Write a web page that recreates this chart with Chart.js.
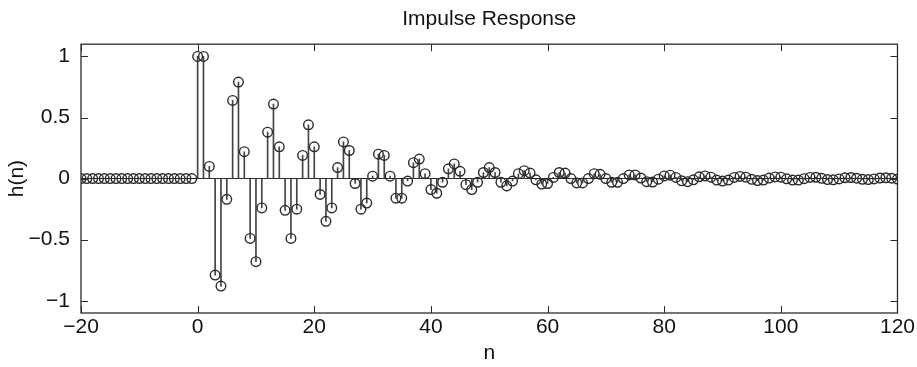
<!DOCTYPE html>
<html>
<head>
<meta charset="utf-8">
<title>Impulse Response</title>
<script src="https://cdn.jsdelivr.net/npm/chart.js@4.4.1/dist/chart.umd.min.js"></script>
<style>
  html, body { margin: 0; padding: 0; background: #fff; }
  #wrap { width: 917px; height: 367px; }
</style>
</head>
<body>
<div id="wrap"><canvas id="myChart" width="917" height="367"></canvas></div>
<script>
// n runs from -20 to 120
const nStart = -20;
const hValues = [
  // n = -20 .. -1
  0, 0, 0, 0, 0, 0, 0, 0, 0, 0,
  0, 0, 0, 0, 0, 0, 0, 0, 0, 0,
  // n = 0 .. 19
  1.0, 1.0, 0.1, -0.79, -0.88, -0.17, 0.64, 0.79, 0.22, -0.49,
  -0.68, -0.24, 0.38, 0.61, 0.26, -0.26, -0.49, -0.25, 0.19, 0.44,
  // n = 20 .. 39
  0.26, -0.13, -0.35, -0.24, 0.09, 0.30, 0.23, -0.04, -0.25, -0.20,
  0.02, 0.20, 0.19, 0.02, -0.16, -0.16, -0.02, 0.13, 0.16, 0.04,
  // n = 40 .. 59
  -0.09, -0.12, -0.03, 0.08, 0.12, 0.06, -0.05, -0.09, -0.03, 0.05,
  0.09, 0.05, -0.03, -0.06, -0.02, 0.04, 0.065, 0.045, -0.01, -0.045,
  // n = 60 .. 79
  -0.04, 0.01, 0.05, 0.045, 0.0, -0.035, -0.035, 0.0, 0.04, 0.035,
  0.0, -0.03, -0.03, 0.0, 0.03, 0.03, 0.005, -0.025, -0.028, -0.005,
  // n = 80 .. 99
  0.022, 0.028, 0.01, -0.018, -0.025, -0.01, 0.015, 0.022, 0.012, -0.012,
  -0.02, -0.012, 0.01, 0.018, 0.012, -0.006, -0.016, -0.012, 0.004, 0.014,
  // n = 100 .. 120
  0.012, -0.002, -0.012, -0.012, -0.001, 0.01, 0.011, 0.002, -0.008, -0.01,
  -0.003, 0.007, 0.009, 0.003, -0.006, -0.008, -0.003, 0.005, 0.007, 0.003,
  -0.004
];
const xTicks = [-20, 0, 20, 40, 60, 80, 100, 120];
const yTicks = [-1, -0.5, 0, 0.5, 1];
const yLabels = ["\u22121", "\u22120.5", "0", "0.5", "1"];

const points = hValues.map((h, i) => ({ x: nStart + i, y: h }));

const FONT = "'Liberation Sans', Arial, Helvetica, sans-serif";
const FS = 21;
const INK = "#2b2b2b";

// box round the plot with inward ticks, like matlab axes
const boxPlugin = {
  id: "box",
  afterDraw(chart) {
    const { ctx, chartArea: a, scales } = chart;
    const len = 7;
    ctx.save();
    ctx.strokeStyle = INK;
    ctx.lineWidth = 1.3;
    ctx.strokeRect(a.left, a.top, a.right - a.left, a.bottom - a.top);
    ctx.lineWidth = 1;
    ctx.beginPath();
    xTicks.forEach(v => {
      const px = Math.round(scales.x.getPixelForValue(v)) + 0.5;
      ctx.moveTo(px, a.bottom); ctx.lineTo(px, a.bottom - len);
      ctx.moveTo(px, a.top); ctx.lineTo(px, a.top + len);
    });
    yTicks.forEach(v => {
      const py = Math.round(scales.y.getPixelForValue(v)) + 0.5;
      ctx.moveTo(a.left, py); ctx.lineTo(a.left + len, py);
      ctx.moveTo(a.right, py); ctx.lineTo(a.right - len, py);
    });
    ctx.stroke();
    ctx.restore();
  }
};

const ctx = document.getElementById("myChart");
new Chart(ctx, {
  type: "bar",
  data: {
    datasets: [
      {
        type: "scatter",
        label: "h(n)",
        data: points,
        pointStyle: "circle",
        pointRadius: 4.8,
        pointBorderWidth: 1.4,
        borderColor: INK,
        backgroundColor: "rgba(0,0,0,0)",
        pointHoverRadius: 4.8,
        order: 0
      },
      {
        type: "bar",
        label: "stem",
        data: points,
        barThickness: 1,
        backgroundColor: "#444",
        borderWidth: 0,
        order: 1
      }
    ]
  },
  plugins: [boxPlugin],
  options: {
    responsive: false,
    animation: false,
    layout: { padding: { left: 0, right: 19, top: 0, bottom: 0 } },
    plugins: {
      legend: { display: false },
      tooltip: { enabled: false },
      title: {
        display: true,
        fullSize: false,
        text: "Impulse Response",
        color: "#111",
        font: { family: FONT, size: FS, weight: "normal" },
        padding: { top: 7, bottom: 12 }
      }
    },
    scales: {
      x: {
        type: "linear",
        min: -20,
        max: 120,
        offset: false,
        afterBuildTicks: s => { s.ticks = xTicks.map(v => ({ value: v })); },
        afterFit: s => { s.height = 54; },
        grid: { display: false, drawTicks: false },
        border: { display: false },
        ticks: {
          color: "#111",
          padding: 2,
          maxRotation: 0,
          font: { family: FONT, size: FS },
          callback: v => (v < 0 ? "\u2212" + Math.abs(v) : String(v))
        },
        title: {
          display: true,
          text: "n",
          color: "#111",
          font: { family: FONT, size: FS },
          padding: { top: 0, bottom: 1 }
        }
      },
      y: {
        min: -1.1,
        max: 1.1,
        afterBuildTicks: s => { s.ticks = yTicks.map(v => ({ value: v })); },
        afterFit: s => { s.width = 81; },
        grid: {
          drawTicks: false,
          lineWidth: 1,
          color: c => (c.tick && c.tick.value === 0 ? INK : "rgba(0,0,0,0)")
        },
        border: { display: false },
        ticks: {
          color: "#111",
          padding: 11,
          font: { family: FONT, size: FS },
          callback: (v) => yLabels[yTicks.indexOf(v)]
        },
        title: {
          display: true,
          text: "h(n)",
          color: "#111",
          font: { family: FONT, size: FS },
          padding: { top: 5, bottom: 0 }
        }
      }
    }
  }
});
</script>
</body>
</html>
